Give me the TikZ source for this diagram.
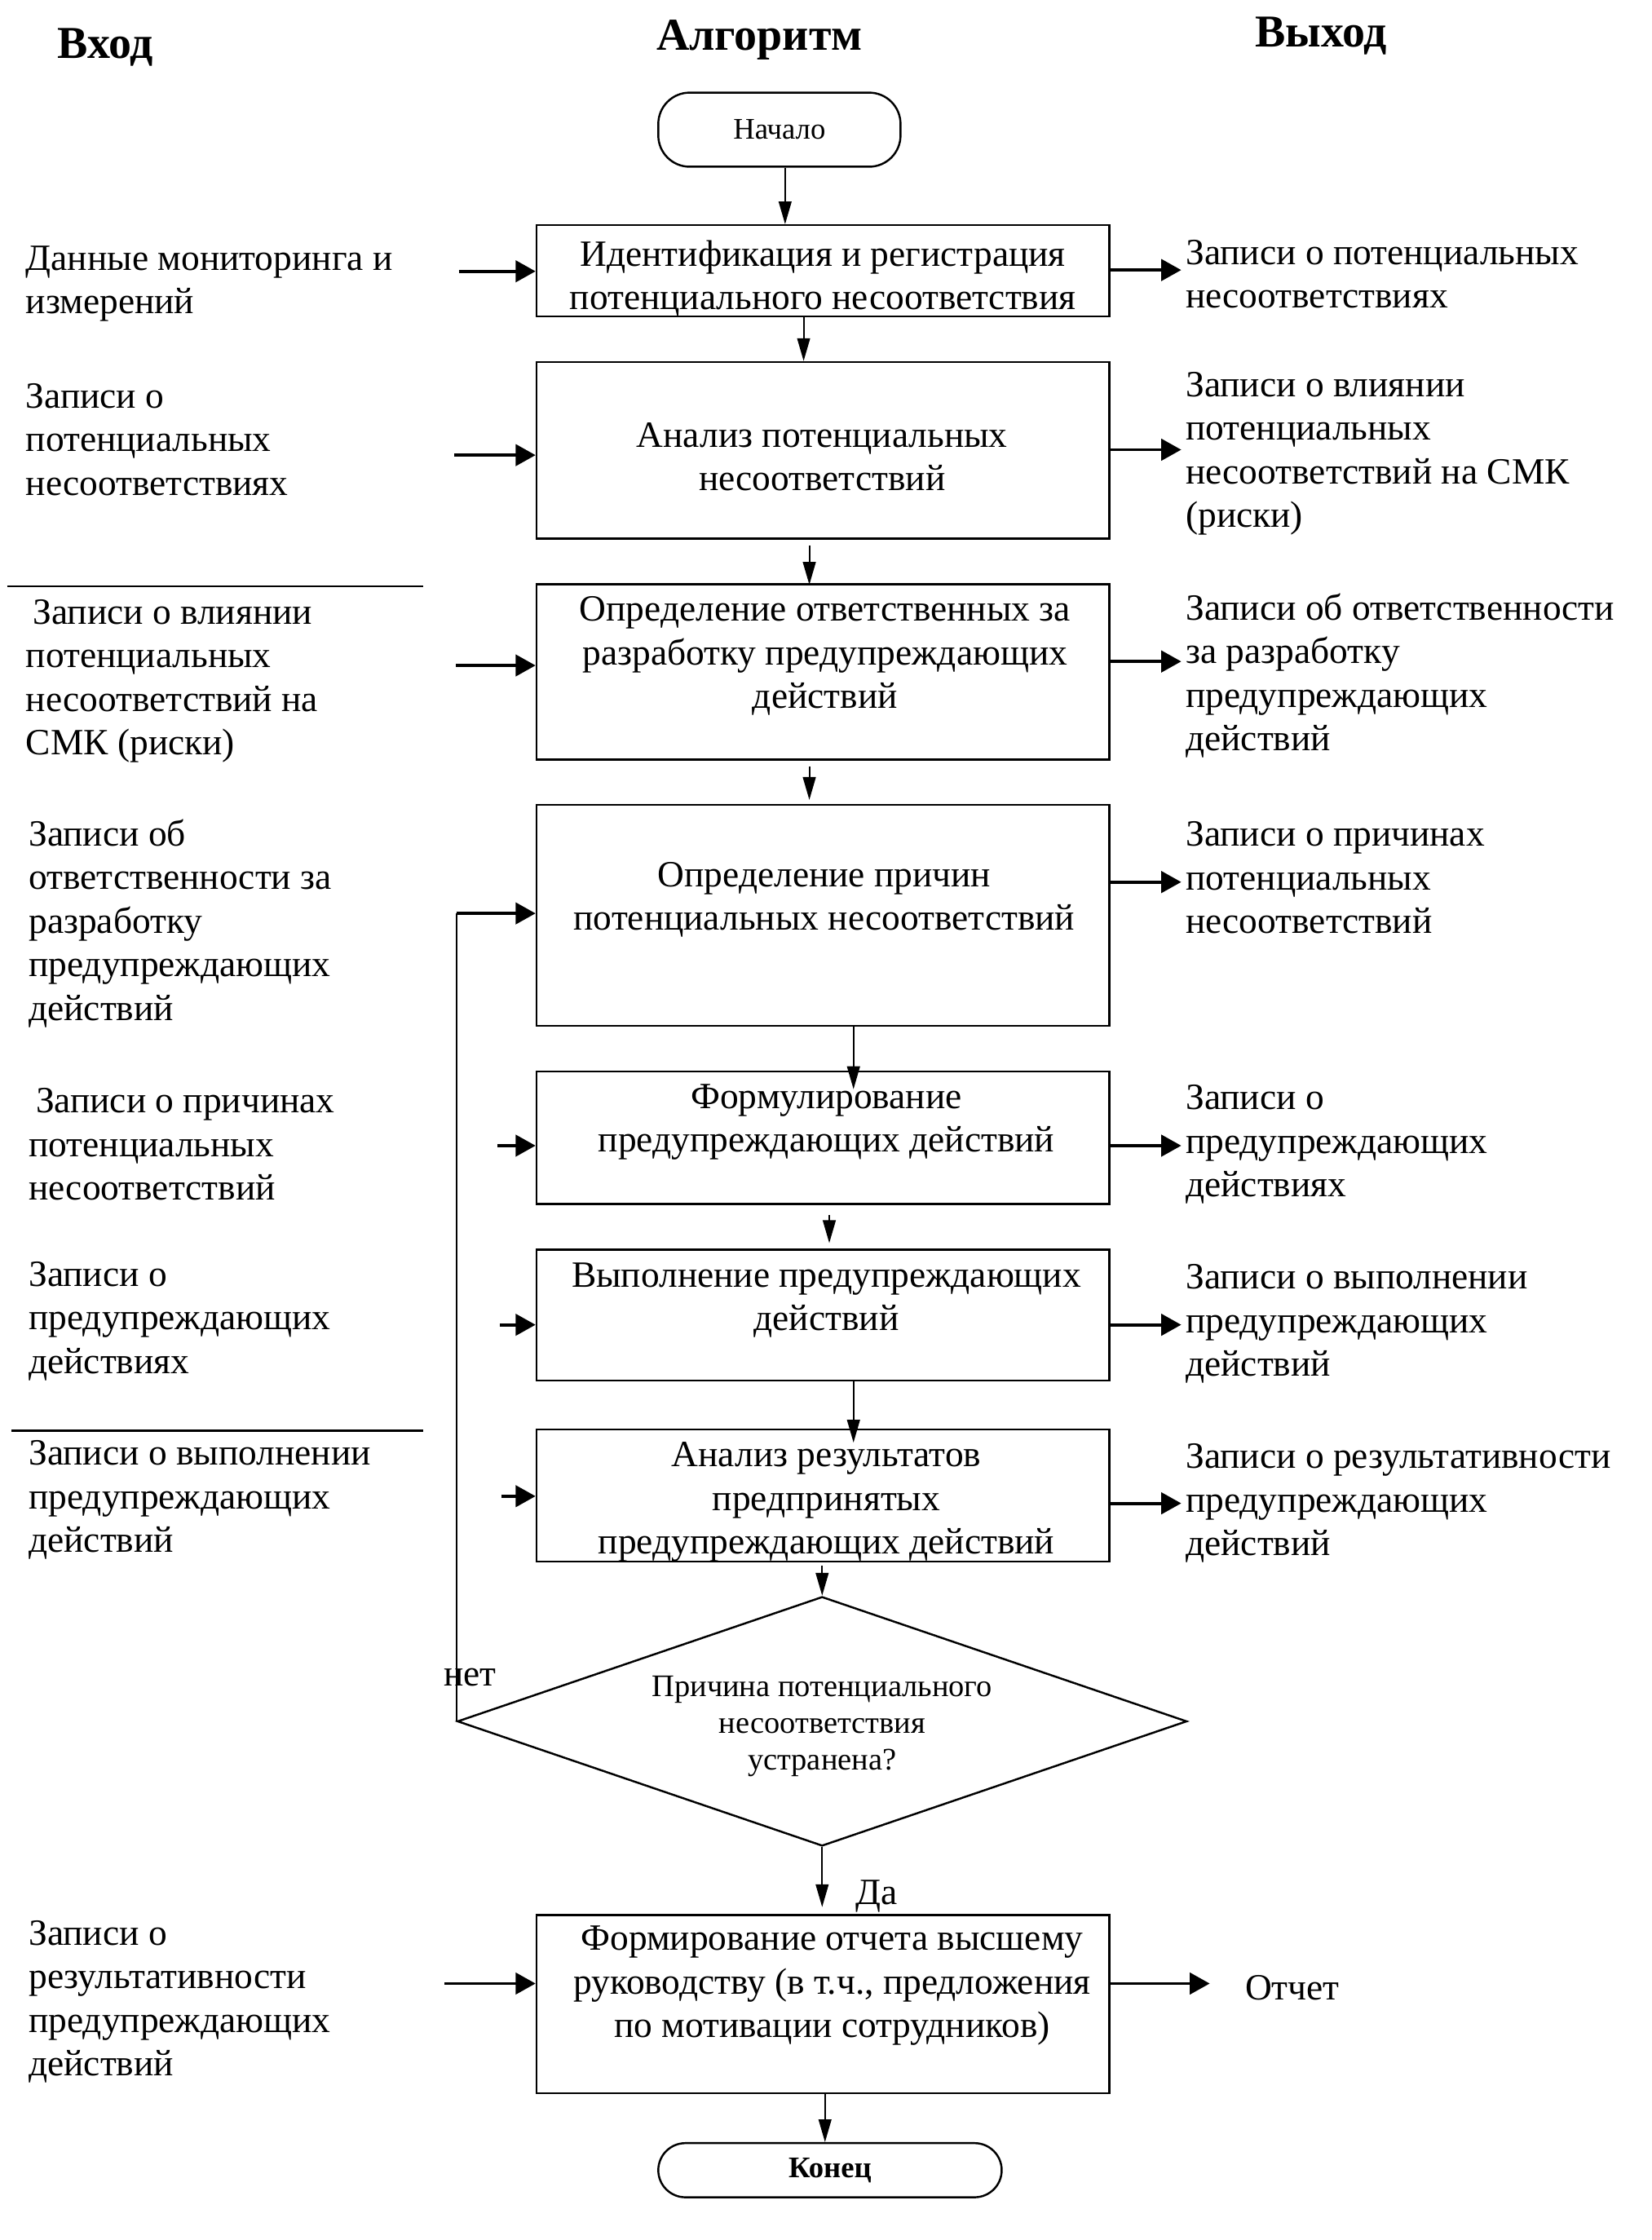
\documentclass[tikz,border=0pt]{standalone}
\usepackage{fontspec}
\setmainfont{Liberation Serif}
\usetikzlibrary{arrows.meta,calc,shapes.geometric}
\newcommand\mainsz{\fontsize{26pt}{30.6pt}\selectfont}
\newcommand\dsz{\fontsize{22pt}{25.5pt}\selectfont}
\newcommand\hsz{\fontsize{32pt}{36pt}\selectfont\bfseries}
\newcommand\tsz{\fontsize{21pt}{24pt}\selectfont}
\begin{document}
\begin{tikzpicture}[x=1pt,y=-1pt,
  box/.style={draw, line width=1.3pt, minimum width=402pt, inner sep=0pt},
  term/.style={draw, line width=1.4pt, inner sep=0pt, font=\tsz},
  txt/.style={font=\mainsz, align=center, inner sep=0pt, yshift=-3pt},
  ltxt/.style={font=\mainsz, align=left, inner sep=0pt, anchor=west, yshift=-3pt},
  head/.style={font=\hsz, inner sep=0pt, yshift=-3pt},
  varrow/.style={line width=1.1pt, -{Triangle[length=16pt,width=9pt]}},
  harrow/.style={line width=2.2pt, -{Triangle[length=14pt,width=15pt]}},
  thinl/.style={line width=1.2pt},
  sepl/.style={line width=1.2pt}]
\fill[white] (0,0) rectangle (1159,1572);
\useasboundingbox (0,0) rectangle (1159,1572);

% headers
\node[head] (hin) at (74,30) {Вход};
\node[head] (halg) at (533,25) {Алгоритм};
\node[head] (hout) at (927,22) {Выход};

% terminals
\node[term, rounded corners=22pt, minimum width=170pt, minimum height=52pt] (st) at (547,91) {Начало};
\node[term, rounded corners=19pt, minimum width=241pt, minimum height=38pt, font=\tsz\bfseries] (en) at (582.5,1523) {Конец};

% process boxes
\node[box, minimum height=64pt]  (b1) at (577.5,190) {};
\node[box, minimum height=124pt] (b2) at (577.5,316) {};
\node[box, minimum height=123pt] (b3) at (577.5,471.5) {};
\node[box, minimum height=155pt] (b4) at (577.5,642.5) {};
\node[box, minimum height=93pt]  (b5) at (577.5,798.5) {};
\node[box, minimum height=92pt]  (b6) at (577.5,923) {};
\node[box, minimum height=93pt]  (b7) at (577.5,1049.5) {};
\node[box, minimum height=125pt] (b8) at (577.5,1406.5) {};

% decision
\node[draw, diamond, aspect=2.9, minimum width=512pt, minimum height=175pt, inner sep=0pt,
      line width=1.4pt] (dia) at (577,1208) {};
\node[font=\dsz, align=center, inner sep=0pt] (dt) at (577,1211.5)
  {Причина потенциального\\несоответствия\\устранена?};

% box texts
\node[txt] (t1) at (577.5,192.5) {Идентификация и регистрация\\потенциального несоответствия};
\node[txt] (t2) at (577,317.5) {Анализ потенциальных\\несоответствий};
\node[txt] (t3) at (579,457.3) {Определение ответственных за\\разработку предупреждающих\\действий};
\node[txt] (t4) at (578.5,628.5) {Определение причин\\потенциальных несоответствий};
\node[txt] (t5) at (580,784.5) {Формулирование\\предупреждающих действий};
\node[txt] (t6) at (580,909.5) {Выполнение предупреждающих\\действий};
\node[txt] (t7) at (580,1051.3) {Анализ результатов\\предпринятых\\предупреждающих действий};
\node[txt] (t8) at (584,1390.7) {Формирование отчета высшему\\руководству (в т.ч., предложения\\по мотивации сотрудников)};

% left inputs
\node[ltxt] (l1) at (18,196) {Данные мониторинга и\\измерений};
\node[ltxt] (l2) at (18,305.3) {Записи о\\потенциальных\\несоответствиях};
\node[ltxt] (l3) at (18,475) {\hspace*{5pt}Записи о влиянии\\потенциальных\\несоответствий на\\СМК (риски)};
\node[ltxt] (l4) at (20,645) {Записи об\\ответственности за\\разработку\\предупреждающих\\действий};
\node[ltxt] (l5) at (20,800) {\hspace*{5pt}Записи о причинах\\потенциальных\\несоответствий};
\node[ltxt] (l6) at (20,924) {Записи о\\предупреждающих\\действиях};
\node[ltxt] (l7) at (20,1049.7) {Записи о выполнении\\предупреждающих\\действий};
\node[ltxt] (l8) at (20,1401.75) {Записи о\\результативности\\предупреждающих\\действий};

% right outputs
\node[ltxt] (r1) at (832,189.5) {Записи о потенциальных\\несоответствиях};
\node[ltxt] (r2) at (832,315.25) {Записи о влиянии\\потенциальных\\несоответствий на СМК\\(риски)};
\node[ltxt] (r3) at (832,471.25) {Записи об ответственности\\за разработку\\предупреждающих\\действий};
\node[ltxt] (r4) at (832,613) {Записи о причинах\\потенциальных\\несоответствий};
\node[ltxt] (r5) at (832,800.3) {Записи о\\предупреждающих\\действиях};
\node[ltxt] (r6) at (832,926) {Записи о выполнении\\предупреждающих\\действий};
\node[ltxt] (r7) at (832,1052) {Записи о результативности\\предупреждающих\\действий};
\node[txt] (rep) at (907,1392) {Отчет};

% labels
\node[txt] (no) at (330,1174) {нет};
\node[txt] (yes) at (615,1328) {Да};

% separators
\draw[sepl] (5,411.7) -- (297,411.7);
\draw[sepl] (8,1004) -- (297,1004);

% main flow
\draw[varrow] ($(st.south)+(4,0)$) -- ($(b1.north)+(-26.5,0)$);
\draw[varrow] ($(b1.south)+(-13.5,0)$) -- ($(b2.north)+(-13.5,0)$);
\draw[varrow] ($(b2.south)+(-9.5,4)$) -- ($(b3.north)+(-9.5,1)$);
\draw[varrow] ($(b3.south)+(-9.5,4)$) -- ($(b4.north)+(-9.5,-3)$);
\draw[varrow] ($(b4.south)+(21.5,0)$) -- ($(b5.north)+(21.5,13)$);
\draw[varrow] ($(b5.south)+(4.5,7)$) -- ($(b6.north)+(4.5,-4)$);
\draw[varrow] ($(b6.south)+(21.5,0)$) -- ($(b7.north)+(21.5,10)$);
\draw[varrow] ($(b7.south)+(-0.5,2)$) -- (dia.north);
\draw[varrow] (dia.south) -- ($(b8.north)+(-0.5,-5)$);
\draw[varrow] ($(b8.south)+(1.5,0)$) -- ($(en.north)+(-3.5,0)$);

% loop back
\coordinate (lp) at (321,641);
\draw[thinl] (dia.west) -- (dia.west |- lp);
\draw[harrow] (dia.west |- lp) -- (lp -| b4.west);

% input arrows
\coordinate (in1) at (322,190.4);
\coordinate (in2) at (319,319.4);
\coordinate (in3) at (320,467);
\coordinate (in5) at (349,804);
\coordinate (in6) at (351,929.7);
\coordinate (in7) at (352,1050);
\coordinate (in8) at (312,1392);
\draw[harrow] (in1) -- (in1 -| b1.west);
\draw[harrow] (in2) -- (in2 -| b2.west);
\draw[harrow] (in3) -- (in3 -| b3.west);
\draw[harrow] (in5) -- (in5 -| b5.west);
\draw[harrow] (in6) -- (in6 -| b6.west);
\draw[harrow] (in7) -- (in7 -| b7.west);
\draw[harrow] (in8) -- (in8 -| b8.west);

% output arrows
\coordinate (o1) at (829,189.5);
\coordinate (o2) at (829,315.6);
\coordinate (o3) at (829,464.2);
\coordinate (o4) at (829,619);
\coordinate (o5) at (829,804);
\coordinate (o6) at (829,929.7);
\coordinate (o7) at (829,1055);
\coordinate (o8) at (849,1392);
\draw[harrow] (o1 -| b1.east) -- (o1);
\draw[harrow] (o2 -| b2.east) -- (o2);
\draw[harrow] (o3 -| b3.east) -- (o3);
\draw[harrow] (o4 -| b4.east) -- (o4);
\draw[harrow] (o5 -| b5.east) -- (o5);
\draw[harrow] (o6 -| b6.east) -- (o6);
\draw[harrow] (o7 -| b7.east) -- (o7);
\draw[harrow] (o8 -| b8.east) -- (o8);
\end{tikzpicture}
\end{document}
